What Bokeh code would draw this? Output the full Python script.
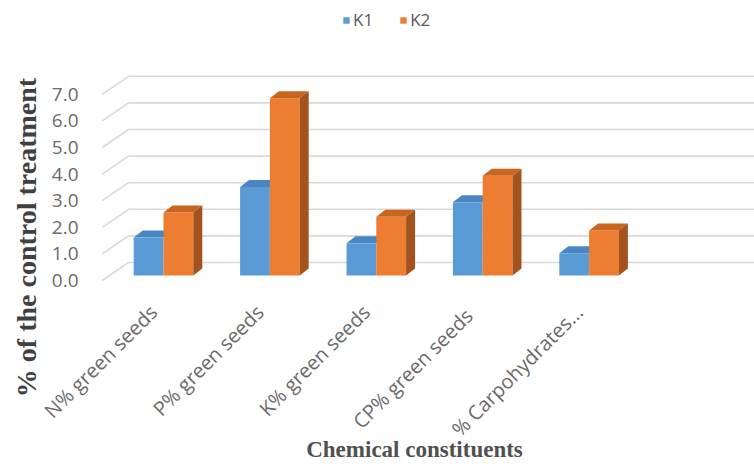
import numpy as np
from bokeh.plotting import figure
from bokeh.models import (Range1d, FixedTicker, Legend, LegendItem, ColumnDataSource)
from bokeh.core.properties import value
from bokeh.embed import file_html
from bokeh.resources import INLINE

# ---------------- data ----------------
categories = ["N% green seeds", "P% green seeds", "K% green seeds",
              "CP%  green seeds", "% Carpohydrates..."]
k1 = [1.43, 3.33, 1.21, 2.75, 0.84]
k2 = [2.37, 6.66, 2.21, 3.75, 1.69]
y_ticks = [0, 1, 2, 3, 4, 5, 6, 7]
y_tick_labels = ["0.0", "1.0", "2.0", "3.0", "4.0", "5.0", "6.0", "7.0"]
series_names = ["K1", "K2"]
x_title = "Chemical constituents"
y_title = "% of the control treatment"

# ---------------- geometry (pixels) ----------------
W, H = 754, 466
BL, BR, BT, BB = 41, 0, 8, 0
PX_Y = 26.6          # px per value unit
PX_G = 106.4         # px per category
ZERO_Y = 275         # px of bar baseline
G0_X = 163           # px of first group centre
frame_h = H - BT - BB
y_start = -(BT + frame_h - ZERO_Y) / PX_Y
y_end = (ZERO_Y - BT) / PX_Y
x_start = (BL - G0_X) / PX_G
x_end = (W - BR - G0_X) / PX_G

def px_x(px):
    return (px - G0_X) / PX_G

def px_y(py):
    return (ZERO_Y - py) / PX_Y

FRONT_OFF = -5 / PX_Y     # front plane (tick labels) offset
BACK_OFF = 13 / PX_Y      # back wall offset
FRONT_X = px_x(101.7)
BACK_X = px_x(128)
TICK_X = px_x(78)
BAR_W = 0.28
DX = 9 / PX_G
DY = 7 / PX_Y
LAB_DX = -10 / PX_G
LAB_Y = px_y(308)

BLUE, BLUE_TOP = "#5B9BD5", "#4A86C4"
ORANGE, ORANGE_TOP, ORANGE_SIDE = "#ED7D31", "#C8651F", "#A4531E"
GRID = "#D9D9D9"
TXT = "#6b6b6b"

p = figure(width=W, height=H, output_backend="svg", toolbar_location=None,
           x_range=Range1d(x_start, x_end), y_range=Range1d(y_start, y_end),
           x_axis_location=None,
           min_border_left=BL, min_border_right=BR,
           min_border_top=BT, min_border_bottom=BB)
p.outline_line_color = None
p.grid.visible = False
p.background_fill_color = "white"
p.border_fill_color = "white"

ya = p.yaxis[0]
ya.ticker = FixedTicker(ticks=[])
ya.major_tick_out = 0
ya.major_tick_in = 0
ya.minor_tick_out = 0
ya.minor_tick_in = 0
ya.major_label_standoff = 0
ya.axis_line_color = None
ya.axis_label_standoff = 0
ya.axis_label = y_title
ya.axis_label_text_font = "Liberation Serif"
ya.axis_label_text_font_style = "bold"
ya.axis_label_text_font_size = "28px"
ya.axis_label_text_color = "#404040"

# back wall gridlines and side-wall diagonals
yt = np.array(y_ticks, dtype=float)
n = len(yt)
p.segment(x0=[BACK_X] * n, y0=yt + BACK_OFF, x1=[x_end] * n, y1=yt + BACK_OFF,
          line_color=GRID, line_width=1.6)
p.segment(x0=[FRONT_X] * n, y0=yt + FRONT_OFF, x1=[BACK_X] * n,
          y1=yt + BACK_OFF, line_color=GRID, line_width=1.6)

# value tick labels on the front plane
tsrc = ColumnDataSource(dict(x=[TICK_X] * n, y=yt + FRONT_OFF, t=y_tick_labels))
p.text(x="x", y="y", text="t", source=tsrc, text_align="right", text_baseline="middle",
       text_font=value("Open Sans"), text_font_size="19px", text_color=TXT)

idx = np.arange(len(categories), dtype=float)
xb = idx - BAR_W / 2
xo = idx + BAR_W / 2

def top_faces(xc, vals):
    xs, ys = [], []
    for x, v in zip(xc, vals):
        l, r = x - BAR_W / 2, x + BAR_W / 2
        xs.append([l, r, r + DX, l + DX])
        ys.append([v, v, v + DY, v + DY])
    return xs, ys

def side_faces(xc, vals):
    xs, ys = [], []
    for x, v in zip(xc, vals):
        r = x + BAR_W / 2
        xs.append([r, r + DX, r + DX, r])
        ys.append([0, DY, v + DY, v])
    return xs, ys

# blue bars
bx, by = top_faces(xb, k1)
p.patches(xs=bx, ys=by, fill_color=BLUE_TOP, line_color=None)
rb = p.vbar(x=xb, top=k1, bottom=0, width=BAR_W, fill_color=BLUE, line_color=None)
# orange bars
ro = p.vbar(x=xo, top=k2, bottom=0, width=BAR_W, fill_color=ORANGE, line_color=None)
ox, oy = top_faces(xo, k2)
p.patches(xs=ox, ys=oy, fill_color=ORANGE_TOP, line_color=None)
sx, sy = side_faces(xo, k2)
p.patches(xs=sx, ys=sy, fill_color=ORANGE_SIDE, line_color=None)

# category labels
src = ColumnDataSource(dict(x=idx + LAB_DX, y=[LAB_Y] * len(categories), t=categories))
p.text(x="x", y="y", text="t", source=src, angle=np.pi / 4, text_align="right",
       text_baseline="middle", text_font=value("Open Sans"), text_font_size="20px",
       text_color=TXT)

# x title
p.text(x=[px_x(414)], y=[px_y(449)], text=[x_title], text_align="center",
       text_baseline="middle", text_font=value("Liberation Serif"),
       text_font_style="bold", text_font_size="23px", text_color="#505050")

legend = Legend(items=[LegendItem(label=series_names[0], renderers=[rb]),
                       LegendItem(label=series_names[1], renderers=[ro])],
                orientation="horizontal", location=(342 - BL, H - 31),
                glyph_width=8, glyph_height=8, label_standoff=3, spacing=26,
                padding=0, margin=0, border_line_color=None, background_fill_alpha=0,
                label_text_font="Open Sans", label_text_font_size="17px",
                label_text_color="#595959")
p.add_layout(legend, "center")

open("out.html", "w").write(file_html(p, INLINE))
